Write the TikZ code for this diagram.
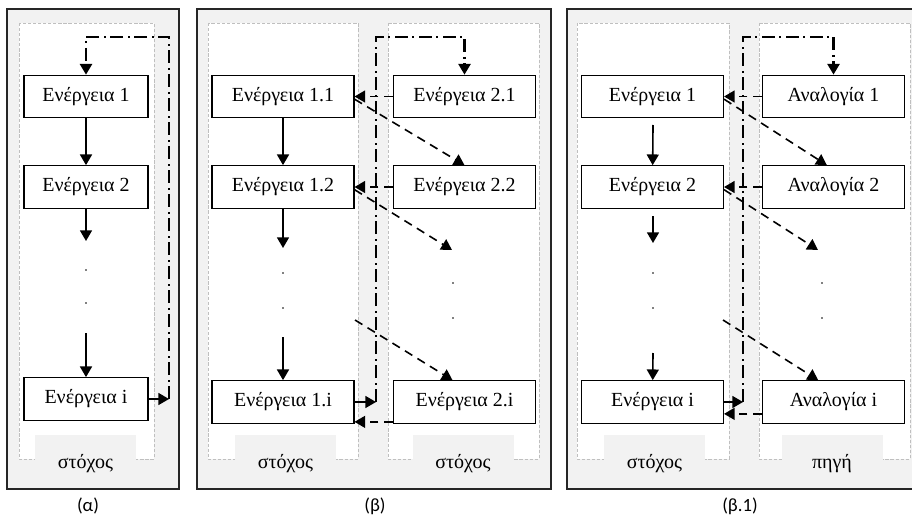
\documentclass[tikz,border=0pt]{standalone}
\usepackage{fontspec}
\setmainfont{Liberation Serif}
\newfontfamily\capfont{Carlito}
\usepackage{tikz}
\usetikzlibrary{arrows.meta}
\definecolor{panelgray}{HTML}{F2F2F2}
\definecolor{framegray}{HTML}{BFBFBF}
\definecolor{darkgray}{HTML}{262626}

\begin{document}
\begin{tikzpicture}[x=0.75pt,y=-0.75pt,>={Triangle[length=8pt,width=9pt]},
  panel/.style={draw=darkgray,line width=1pt,fill=panelgray},
  area/.style={draw=framegray,fill=white,line width=0.7pt,dash pattern=on 2.4pt off 1.4pt},
  actbox/.style={draw,line width=0.8pt,fill=white,minimum height=32pt,inner sep=0pt,font=\fontsize{15}{17}\selectfont},
  tag/.style={fill=panelgray,minimum width=75.75pt,text height=24.5pt,text depth=7.5pt,inner ysep=0pt,anchor=base,font=\fontsize{15}{17}\selectfont},
  flow/.style={->,line width=1.2pt},
  map/.style={->,line width=1.2pt,dash pattern=on 6.5pt off 4.5pt},
  loop/.style={line width=1.7pt,dash pattern=on 9.5pt off 3.5pt on 1.5pt off 3.5pt},
  dot/.style={circle,fill,inner sep=0pt,minimum size=1.2pt},
  caption/.style={font=\capfont\fontsize{14}{16}\selectfont}]
  \useasboundingbox (0,0) rectangle (912,527);

  % (a)
  \draw[panel] (7,9) rectangle (179,489);
  \draw[area] (19,23) rectangle (154,459);
  \node[tag] (ta) at (85.5,468) {στόχος};
  \node[actbox,minimum width=93pt] (a1) at (86,96.5) {Ενέργεια 1};
  \node[actbox,minimum width=93pt] (a2) at (86,187) {Ενέργεια 2};
  \node[actbox,minimum width=93pt] (ai) at (86,399) {Ενέργεια i};
  \coordinate (a2e) at (86,241);
  \coordinate (aie) at (86,333);
  \node[dot] (ad1) at (86,270) {};
  \node[dot] (ad2) at (86,303) {};
  \coordinate (aR) at (169,399);
  \coordinate (aTop) at (169,37);
  \draw[flow] (a1) -- (a2);
  \draw[flow] (a2) -- (a2e);
  \draw[flow] (aie) -- (ai);
  \draw[flow] (ai) -- (aR);
  \draw[loop,->] (aR) -- (aTop) -- (aTop -| a1.north) -- (a1);

  % (b)
  \draw[panel] (197,9) rectangle (551,489);
  \draw[area] (208,23) rectangle (358,459);
  \draw[area] (388,23) rectangle (539,459);
  \node[tag] (tb1) at (285.5,468) {στόχος};
  \node[tag] (tb2) at (463,468) {στόχος};
  \node[actbox,minimum width=106.5pt] (b11) at (283,96.5) {Ενέργεια 1.1};
  \node[actbox,minimum width=106.5pt] (b12) at (283,187) {Ενέργεια 1.2};
  \node[actbox,minimum width=106.5pt] (b1i) at (283,402) {Ενέργεια 1.i};
  \node[actbox,minimum width=106.5pt] (b21) at (464.5,96.5) {Ενέργεια 2.1};
  \node[actbox,minimum width=106.5pt] (b22) at (464.5,187) {Ενέργεια 2.2};
  \node[actbox,minimum width=106.5pt] (b2i) at (464.5,402) {Ενέργεια 2.i};
  \coordinate (b12e) at (283,248);
  \coordinate (b1ie) at (283,337);
  \node[dot] (bd1) at (283,273) {};
  \node[dot] (bd2) at (283,308) {};
  \node[dot] (bd3) at (453,283) {};
  \node[dot] (bd4) at (453,318) {};
  \coordinate (b22e) at (452,250);
  \coordinate (b2is) at (355,320);
  \coordinate (bR) at (376,402);
  \coordinate (bTop) at (376,37);
  \draw[flow] (b11) -- (b12);
  \draw[flow] (b12) -- (b12e);
  \draw[flow] (b1ie) -- (b1i);
  \draw[map] (b21) -- (b11);
  \draw[map] (b22) -- (b12);
  \draw[map] ([yshift=1.5pt]b2i.south west) -- ([yshift=1.5pt]b1i.south east);
  \draw[map] ([yshift=-2pt]b11.east) -- (b22.north);
  \draw[map] ([yshift=-2pt]b12.east) -- (b22e);
  \draw[map] (b2is) -- ([xshift=-9pt]b2i.north);
  \draw[flow] (b1i) -- (bR);
  \draw[loop,->] (bR) -- (bTop) -- (bTop -| b21.north) -- (b21);

  % (b.1)
  \draw[panel] (567,9) rectangle (921,489);
  \draw[area] (577,23) rectangle (729,459);
  \draw[area] (759,23) rectangle (910,459);
  \node[tag] (tc) at (654.5,468) {στόχος};
  \node[tag] (td) at (832,468) {πηγή};
  \node[actbox,minimum width=106.5pt] (c1) at (652.5,96.5) {Ενέργεια 1};
  \node[actbox,minimum width=106.5pt] (c2) at (652.5,187) {Ενέργεια 2};
  \node[actbox,minimum width=106.5pt] (ci) at (652.5,402) {Ενέργεια i};
  \node[actbox,minimum width=106.5pt] (d1) at (833.5,96.5) {Αναλογία 1};
  \node[actbox,minimum width=106.5pt] (d2) at (833.5,187) {Αναλογία 2};
  \node[actbox,minimum width=106.5pt] (di) at (833.5,402) {Αναλογία i};
  \coordinate (c1s) at (653,125);
  \coordinate (c2s) at (653,216);
  \coordinate (c2e) at (653,243);
  \coordinate (cis) at (653,353);
  \node[dot] (cd1) at (653,273) {};
  \node[dot] (cd2) at (653,308) {};
  \node[dot] (dd1) at (822,283) {};
  \node[dot] (dd2) at (822,318) {};
  \coordinate (d2e) at (818,250);
  \coordinate (dis) at (723,320);
  \coordinate (cR) at (743,402);
  \coordinate (cTop) at (743,37);
  \draw[flow] (c1s) -- (c2);
  \draw[flow] (c2s) -- (c2e);
  \draw[flow] (cis) -- (ci);
  \draw[map] (d1) -- (c1);
  \draw[map] (d2) -- (c2);
  \draw[map] ([yshift=7.5pt]di.south west) -- ([yshift=7.5pt]ci.south east);
  \draw[map] ([yshift=-2pt]c1.east) -- ([xshift=-5pt]d2.north);
  \draw[map] ([yshift=-2pt]c2.east) -- (d2e);
  \draw[map] (dis) -- ([xshift=-11.5pt]di.north);
  \draw[flow] (ci) -- (cR);
  \draw[loop,->] (cR) -- (cTop) -- (cTop -| d1.north) -- (d1);

  \node[caption] (capa) at (88,506) {(α)};
  \node[caption] (capb) at (375,506) {(β)};
  \node[caption] (capc) at (740,506) {(β.1)};
\end{tikzpicture}
\end{document}
